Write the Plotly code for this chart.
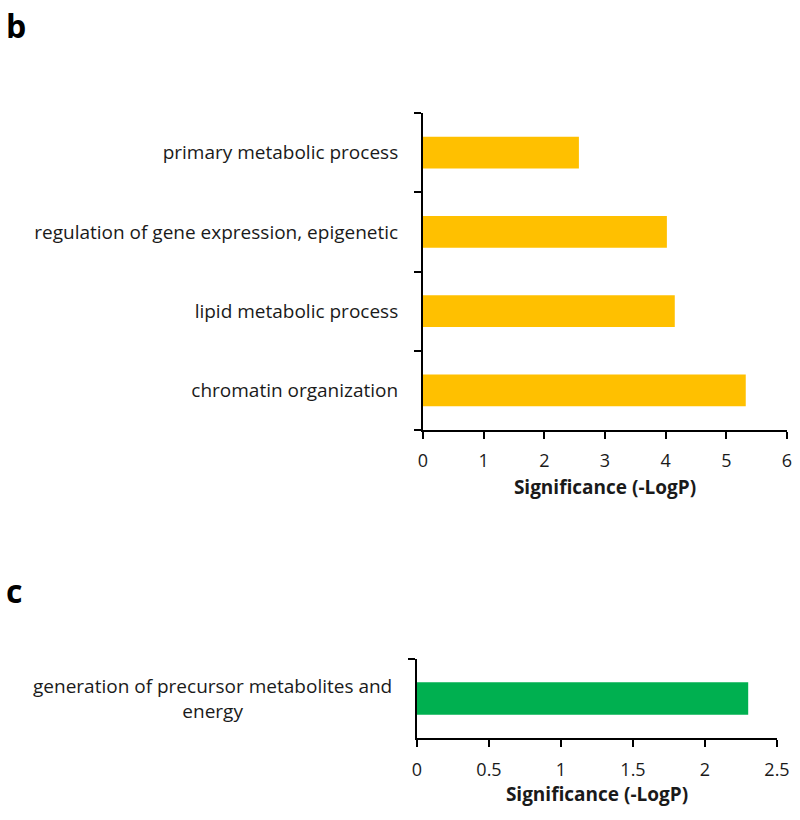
import plotly.graph_objects as go

# Panel b data (bottom-to-top order)
b_categories = ["chromatin organization", "lipid metabolic process",
                "regulation of gene expression, epigenetic", "primary metabolic process"]
b_values = [5.32, 4.15, 4.02, 2.57]

# Panel c data
c_categories = ["generation of precursor metabolites and<br>energy"]
c_values = [2.30]

b_ticks = [0, 1, 2, 3, 4, 5, 6]
c_ticks = [0, 0.5, 1, 1.5, 2, 2.5]
c_ticklabels = ["0", "0.5", "1", "1.5", "2", "2.5"]

FONT = "Open Sans"
TXT = "#1a1a1a"
W, H = 800, 820

fig = go.Figure()
fig.add_trace(go.Bar(x=b_values, y=b_categories, orientation="h",
                     marker=dict(color="#FFC000", line=dict(width=0)),
                     width=0.4, xaxis="x", yaxis="y", showlegend=False))
fig.add_trace(go.Bar(x=c_values, y=c_categories, orientation="h",
                     marker=dict(color="#00B050", line=dict(width=0)),
                     width=0.41, xaxis="x2", yaxis="y2", showlegend=False))

axis_common = dict(showgrid=False, zeroline=False, showline=True, linecolor="black",
                   linewidth=2, ticks="outside", ticklen=7, tickwidth=1.5, tickcolor="black",
                   automargin=False)

tick_font = dict(family=FONT, size=18, color=TXT)
cat_font = dict(family=FONT, size=19, color=TXT)
title_font = dict(family=FONT, size=19, color=TXT)

fig.update_layout(
    width=W, height=H, margin=dict(l=0, r=0, t=0, b=0),
    plot_bgcolor="white", paper_bgcolor="white",
    xaxis=dict(domain=[423/W, 787/W], anchor="y", range=[0, 6], tickvals=b_ticks,
               tickfont=tick_font, ticklabelstandoff=6,
               title=dict(text="<b>Significance (-LogP)</b>", font=title_font, standoff=10),
               **axis_common),
    yaxis=dict(domain=[1-430/H, 1-113/H], anchor="x", range=[-0.5, 3.5], type="category",
               categoryorder="array", categoryarray=b_categories, tickson="boundaries",
               tickfont=cat_font, ticklabelstandoff=19, **axis_common),
    xaxis2=dict(domain=[417/W, 777/W], anchor="y2", range=[0, 2.5], tickvals=c_ticks, ticktext=c_ticklabels,
                tickfont=tick_font, ticklabelstandoff=7,
                title=dict(text="<b>Significance (-LogP)</b>", font=title_font, standoff=7),
                **axis_common),
    yaxis2=dict(domain=[1-738/H, 1-659/H], anchor="x2", range=[-0.5, 0.5], type="category",
                tickson="boundaries", showticklabels=False, **axis_common),
)

for cat in c_categories:
    fig.add_annotation(x=212/W, xref="paper", y=cat, yref="y2", text=cat, showarrow=False,
                       xanchor="center", yanchor="middle", align="center", font=cat_font)

fig.add_annotation(x=4/W, y=1-2/H, xref="paper", yref="paper", text="<b>b</b>", showarrow=False,
                   xanchor="left", yanchor="top", font=dict(family=FONT, size=32, color="black"))
fig.add_annotation(x=4/W, y=1-567/H, xref="paper", yref="paper", text="<b>c</b>", showarrow=False,
                   xanchor="left", yanchor="top", font=dict(family=FONT, size=32, color="black"))

fig.write_html("out.html", config={"displayModeBar": False},
               post_script="document.body.style.margin='0';document.body.style.overflow='hidden';")
